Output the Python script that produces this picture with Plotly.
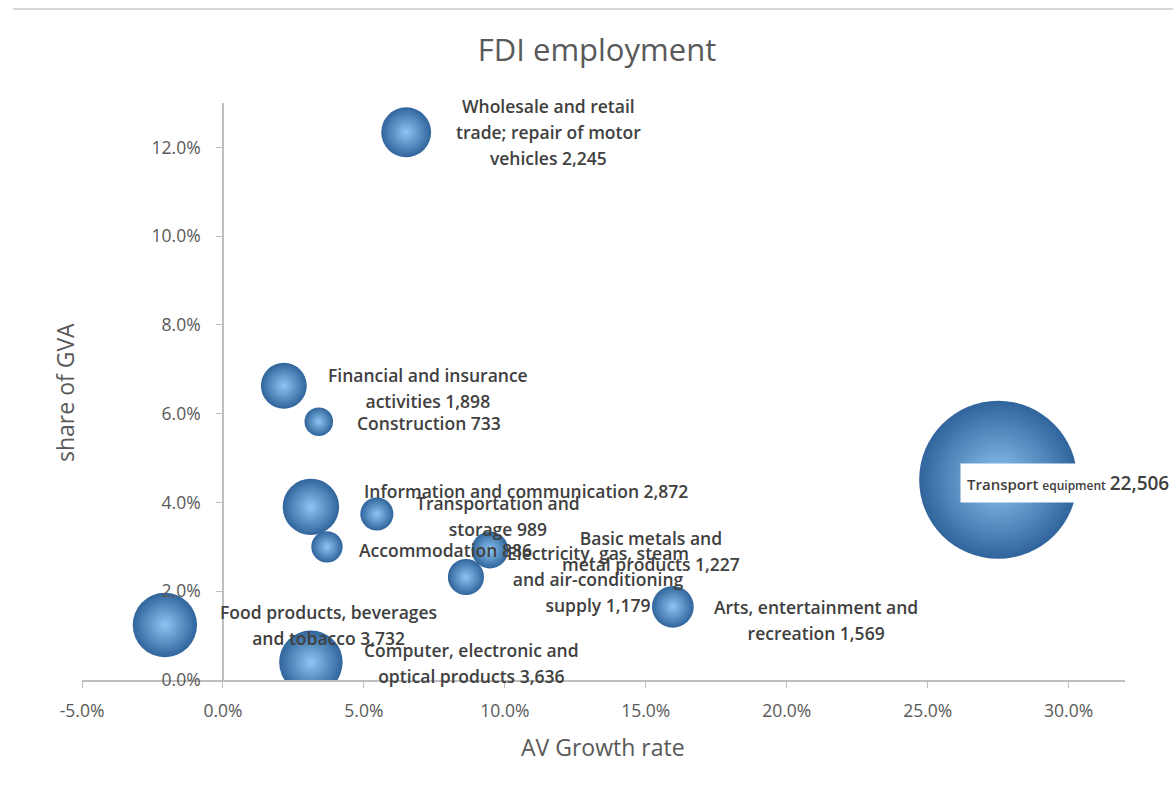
import plotly.graph_objects as go

# Sector bubbles: growth rate (x), share of GVA (y), FDI employment (bubble area)
sectors = [
    "Wholesale and retail trade; repair of motor vehicles",
    "Financial and insurance activities",
    "Construction",
    "Information and communication",
    "Transportation and storage",
    "Accommodation",
    "Basic metals and metal products",
    "Electricity, gas, steam and air-conditioning supply",
    "Arts, entertainment and recreation",
    "Food products, beverages and tobacco",
    "Computer, electronic and optical products",
    "Transport equipment",
]
growth = [0.065, 0.0216, 0.034, 0.0312, 0.0546, 0.0369, 0.0947, 0.0862, 0.1596, -0.0206, 0.0312, 0.275]
share = [0.1234, 0.0663, 0.0582, 0.0390, 0.0374, 0.0300, 0.0293, 0.0232, 0.0165, 0.0124, 0.0040, 0.0451]
employment = [2245, 1898, 733, 2872, 989, 886, 1227, 1179, 1569, 3732, 3636, 22506]

# Wrapped label text for each sector (value appended on the last line)
label_lines = [
    ["Wholesale and retail", "trade; repair of motor", "vehicles"],
    ["Financial and insurance", "activities"],
    ["Construction"],
    ["Information and communication"],
    ["Transportation and", "storage"],
    ["Accommodation"],
    ["Basic metals and", "metal products"],
    ["Electricity, gas, steam", "and air-conditioning", "supply"],
    ["Arts, entertainment and", "recreation"],
    ["Food products, beverages", "and tobacco"],
    ["Computer, electronic and", "optical products"],
    None,
]
# Pixel offsets of each label from its bubble centre
label_shift = [
    (142, 0), (144, -2), (110, -1), (215, 16), (121, -2), (119, -3),
    (161, -1), (132, -2), (143, -13), (164, 0), (161, -1), (0, 0),
]

x_range = [-0.05, 0.32]
y_range = [0.0, 0.13]
x_ticks = [-0.05, 0.0, 0.05, 0.10, 0.15, 0.20, 0.25, 0.30]
x_tick_text = ["-5.0%", "0.0%", "5.0%", "10.0%", "15.0%", "20.0%", "25.0%", "30.0%"]
y_ticks = [0.0, 0.02, 0.04, 0.06, 0.08, 0.10, 0.12]
y_tick_text = ["0.0%", "2.0%", "4.0%", "6.0%", "8.0%", "10.0%", "12.0%"]

FONT = "Open Sans"
GREY = "#595959"
LABEL = "#404040"
AXIS = "#bfbfbf"

max_diam_px = 158
fig = go.Figure()
fig.add_trace(go.Scatter(
    x=growth, y=share, mode="markers",
    marker=dict(
        size=employment, sizemode="area",
        sizeref=2.0 * max(employment) / max_diam_px ** 2,
        color="#30649c",
        gradient=dict(type="radial", color="#8cc6f2"),
        line=dict(width=0),
        opacity=1,
    ),
    hovertext=sectors, hoverinfo="text",
    showlegend=False,
))

annotations = []
for i, lines in enumerate(label_lines):
    value = f"{employment[i]:,}"
    if lines is None:
        continue
    txt = list(lines)
    txt[-1] = f"{txt[-1]} {value}"
    body = "<br>".join(f"<span style='font-size:17.5px'>{t}</span>" for t in txt)
    dx, dy = label_shift[i]
    annotations.append(dict(
        x=growth[i], y=share[i], xref="x", yref="y",
        text=body, showarrow=False, xanchor="center", yanchor="middle",
        align="center", xshift=dx, yshift=dy,
        font=dict(family=FONT, size=20, color=LABEL, weight=600),
    ))

# Boxed label for the largest sector
ti = len(sectors) - 1
annotations.append(dict(
    x=growth[ti], y=share[ti], xref="x", yref="y",
    text=("Transport <span style='font-size:12px'>equipment</span> "
          f"<span style='font-size:19px'>{employment[ti]:,}</span>"),
    showarrow=False, xanchor="left", yanchor="middle",
    xshift=-38, yshift=-3, bgcolor="white", borderpad=6,
    font=dict(family=FONT, size=15, color=LABEL, weight=600),
))

# Thin rule along the top of the page
shapes = [dict(type="line", xref="paper", yref="paper",
               x0=-(82 - 13) / 1043, x1=(1173 - 82) / 1043, y0=1 + 94 / 577, y1=1 + 94 / 577,
               line=dict(color="#d6d6d6", width=2))]

zero_pos = (0 - x_range[0]) / (x_range[1] - x_range[0])

fig.update_layout(
    width=1173, height=787,
    margin=dict(l=82, r=48, t=103, b=107),
    paper_bgcolor="white", plot_bgcolor="white",
    title=dict(text="FDI employment", x=597 / 1173, xanchor="center", y=1 - 50 / 787,
               yanchor="middle", font=dict(family=FONT, size=31, color=GREY)),
    xaxis=dict(
        range=x_range, tickvals=x_ticks, ticktext=x_tick_text,
        showgrid=False, zeroline=False,
        showline=True, linecolor=AXIS, linewidth=1.5,
        ticks="outside", ticklen=6, tickcolor=AXIS, ticklabelstandoff=8,
        tickfont=dict(family=FONT, size=17.5, color=GREY),
    ),
    yaxis=dict(
        range=y_range, tickvals=y_ticks, ticktext=y_tick_text,
        anchor="free", position=zero_pos,
        showgrid=False, zeroline=False,
        showline=True, linecolor=AXIS, linewidth=1.5,
        ticks="outside", ticklen=6, tickcolor=AXIS, ticklabelstandoff=12,
        tickfont=dict(family=FONT, size=17.5, color=GREY),
    ),
    annotations=annotations + [
        dict(text="share of GVA", xref="paper", yref="paper",
             x=-17 / 1043, y=(680 - 393) / 577, textangle=-90,
             showarrow=False, xanchor="center", yanchor="middle",
             font=dict(family=FONT, size=23, color=GREY)),
        dict(text="AV Growth rate", xref="paper", yref="paper",
             x=(603 - 82) / 1043, y=-(747 - 680) / 577,
             showarrow=False, xanchor="center", yanchor="middle",
             font=dict(family=FONT, size=23, color=GREY)),
    ],
    shapes=shapes,
)

fig.write_html("out.html")
